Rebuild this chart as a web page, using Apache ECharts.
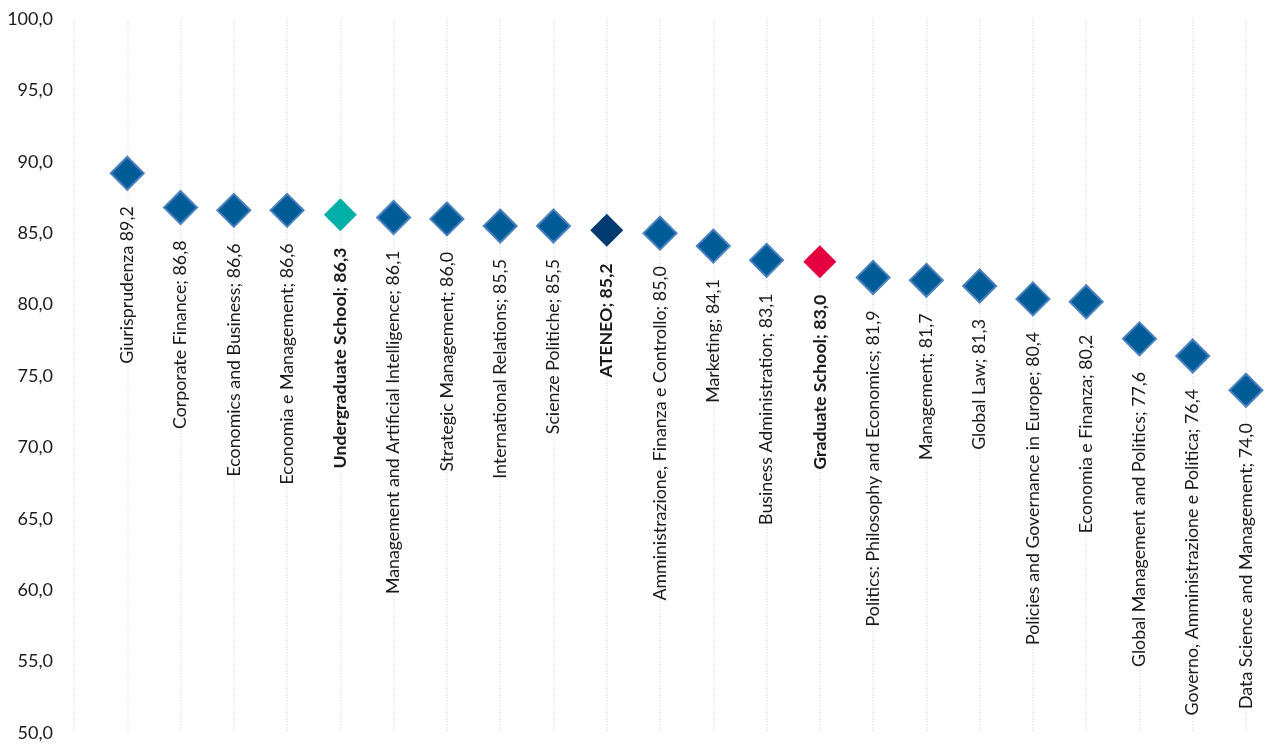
<!DOCTYPE html>
<html><head><meta charset="utf-8">
<script src="https://cdn.jsdelivr.net/npm/echarts@6/dist/echarts.min.js"></script>
<style>html,body{margin:0;padding:0;background:#fff}#c{width:1269px;height:745px}</style>
</head><body><div id="c"></div>
<script>
const categories = ["Giurisprudenza","Corporate Finance","Economics and Business","Economia e Management","Undergraduate School","Management and Artificial Intelligence","Strategic Management","International Relations","Scienze Politiche","ATENEO","Amministrazione, Finanza e Controllo","Marketing","Business Administration","Graduate School","Politics: Philosophy and Economics","Management","Global Law","Policies and Governance in Europe","Economia e Finanza","Global Management and Politics","Governo, Amministrazione e Politica","Data Science and Management"];
const values = [89.2,86.8,86.6,86.6,86.3,86.1,86.0,85.5,85.5,85.2,85.0,84.1,83.1,83.0,81.9,81.7,81.3,80.4,80.2,77.6,76.4,74.0];
const yTicks = [50,55,60,65,70,75,80,85,90,95,100];
const special = {"Undergraduate School":"#00b0a6","ATENEO":"#003a70","Graduate School":"#e4003f"};
const fmt = v => v.toFixed(1).replace('.', ',');
const FONT = 'Lato';
const data = categories.map((c,i)=>{
  const sp = special[c];
  return {
    value:[c, values[i]],
    itemStyle: sp ? {color:sp, borderWidth:0} : {color:'#005c97', borderColor:'#4a80c0', borderWidth:2},
    label: {
      formatter: c === 'Giurisprudenza' ? c + ' ' + fmt(values[i]) : c + '; ' + fmt(values[i]),
      fontWeight: sp ? 'bold' : 'normal'
    }
  };
});
const chart = echarts.init(document.getElementById('c'));
chart.setOption({
  animation:false,
  grid:{left:74,right:23,top:19,bottom:12},
  xAxis:{type:'category', data:[''].concat(categories), boundaryGap:false,
    axisLine:{show:false}, axisTick:{show:false}, axisLabel:{show:false},
    splitLine:{show:true, interval:0, lineStyle:{color:'#dde7f3', type:'dotted', width:1.5}}},
  yAxis:{type:'value', min:yTicks[0], max:yTicks[yTicks.length-1], interval:5,
    axisLine:{show:false}, axisTick:{show:false}, splitLine:{show:false},
    axisLabel:{formatter:v=>fmt(v), fontFamily:FONT, fontSize:18, color:'#1a1a1a', margin:21}},
  series:[{type:'scatter', symbol:'diamond', symbolSize:33, data:data,
    itemStyle:{opacity:1},
    label:{show:true, position:'inside', offset:[-33,0], rotate:90, align:'right', verticalAlign:'middle',
      fontFamily:FONT, fontSize:17.8, color:'#1a1a1a'}}]
});
</script></body></html>
